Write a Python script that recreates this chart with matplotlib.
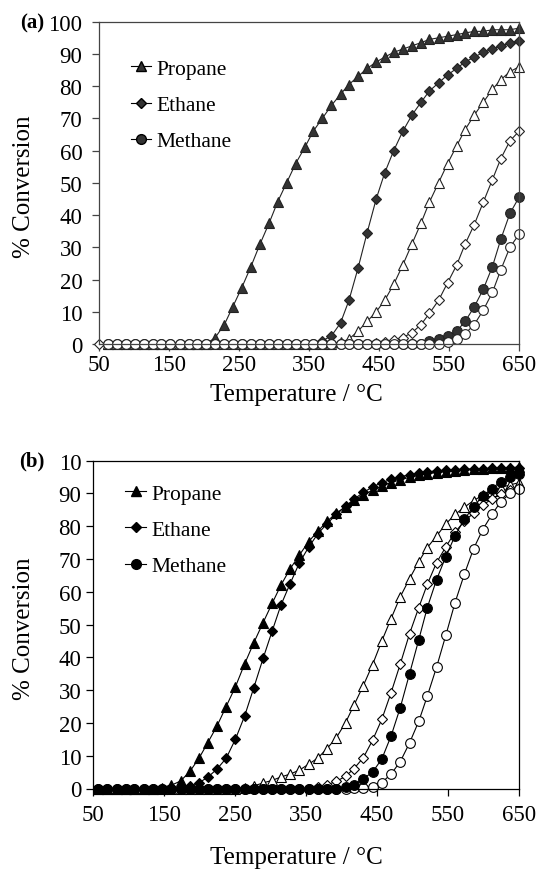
import numpy as np
import matplotlib
matplotlib.use("Agg")
import matplotlib.pyplot as plt
from matplotlib.lines import Line2D

plt.rcParams['font.family'] = ['Liberation Serif', 'DejaVu Serif']

nan = np.nan

# ==== panel (a) data
temp_a = [50, 63, 76, 88, 101, 114, 127, 139, 152, 165, 178, 190, 203, 216, 229, 241,
          254, 267, 280, 293, 305, 318, 331, 344, 356, 369, 382, 395, 407, 420, 433, 446,
          458, 471, 484, 497, 510, 522, 535, 548, 561, 573, 586, 599, 612, 624, 637, 650]

propane_a = [nan] + [0] * 12 + [2, 6, 11.5, 17.5, 24, 31, 37.5, 44, 50, 56, 61, 66, 70, 74,
             77.5, 80.5, 83, 85.5, 87.5, 89, 90.5, 91.5, 92.5, 93.5, 94.5, 95, 95.5, 96,
             96.5, 97, 97, 97.5, 97.5, 97.5, 98]
ethane_a = [nan] + [0] * 24 + [1, 2.5, 6.5, 13.5, 23.5, 34.5, 45, 53, 60, 66, 71, 75, 78.5,
            81, 83.5, 85.5, 87.5, 89, 90.5, 91.5, 92.5, 93.3, 94]
methane_a = [nan] + [0] * 36 + [0.8, 1.5, 2.5, 4, 7, 11.5, 17, 24, 32.5, 40.5, 45.5]
propane_a_open = [nan] + [0] * 26 + [0.5, 1.5, 4, 7, 10, 13.5, 18.5, 24.5, 31, 37.5, 44, 50,
                  56, 61.5, 66.5, 71, 75, 79, 82, 84.5, 86]
ethane_a_open = [0] * 31 + [0.2, 0.6, 1.2, 2, 3.5, 6, 9.5, 13.5, 19, 24.5, 31, 37, 44, 51,
                 57.5, 63, 66]
methane_a_open = [nan] + [0] * 38 + [0.5, 1.5, 3.2, 6, 10.5, 16, 23, 30, 34]

# ==== panel (b) data
temp_b = [58, 71, 84, 97, 109, 122, 135, 148, 161, 174, 187, 200, 212, 225, 238, 251,
          264, 277, 290, 303, 315, 328, 341, 354, 367, 380, 393, 406, 418, 431, 444, 457,
          470, 483, 496, 509, 521, 534, 547, 560, 573, 586, 599, 612, 624, 637, 650]

propane_b = [0] * 7 + [0.3, 1, 2.3, 5.2, 9.3, 13.9, 19, 25, 31, 38, 44.5, 50.6, 56.6, 62, 67,
             71.2, 75.3, 78.5, 81.5, 84, 86, 88, 89.6, 91, 92.3, 93.3, 94.2, 94.9, 95.5, 96,
             96.4, 96.7, 97, 97.2, 97.4, 97.5, 97.7, 97.8, 97.9, 98]
ethane_b = [0] * 9 + [0.3, 0.8, 1.8, 3.4, 5.9, 9.2, 15, 22.1, 30.8, 39.7, 48.2, 55.9, 62.5,
            68.8, 73.6, 77.7, 80.8, 83.6, 86.1, 88.3, 90.3, 92, 93.3, 94.3, 95.1, 95.7, 96.2,
            96.6, 96.9, 97.1, 97.3, 97.4, 97.5, 97.6, 97.7, 97.7, 97.8, 97.8]
methane_b = [0] * 27 + [0.5, 1.2, 3, 5, 9, 16, 24.7, 35, 45.4, 55.2, 63.7, 70.7, 77.1, 82.1,
             85.9, 89.3, 91.5, 93.6, 94.9, 95.8]
propane_b_open = [0] * 16 + [0.3, 0.8, 1.7, 2.5, 3.5, 4.4, 5.6, 7.4, 9.3, 12.2, 15.5, 20.1,
                  25.5, 31.4, 37.8, 45, 51.8, 58.5, 64, 69.2, 73.5, 77, 80.7, 83.6, 85.8,
                  87.8, 89.5, 90.8, 91.8, 92.6, 93.3]
ethane_b_open = [0] * 24 + [0.5, 1.1, 2.2, 3.7, 6.1, 9.4, 14.7, 21.1, 29.2, 38, 47.2, 55.2,
                 62.3, 68.9, 73.7, 78.2, 81.5, 84, 86.5, 88.3, 89.8, 91.1, 91.8]
methane_b_open = [0] * 28 + [0.1, 0.3, 0.6, 1.8, 4.4, 8.2, 13.9, 20.5, 28.2, 37, 46.7, 56.7,
                  65.3, 73.1, 79, 83.6, 87.4, 90, 91.3]

gas_names = ["Propane", "Ethane", "Methane"]
x_ticks = [50, 150, 250, 350, 450, 550, 650]
y_ticks = list(range(0, 101, 10))

MARKERS = {"Propane": ("^", 7.8), "Ethane": ("D", 5.2), "Methane": ("o", 7)}


def draw_series(ax, T, y, gas, face, edge, lw):
    m, ms = MARKERS[gas]
    ax.plot(T, y, color=edge, lw=lw, marker=m, ms=ms, mfc=face, mec=edge,
            mew=0.8, clip_on=False)


def style_axes(ax, spine_col, xpad, ypad, ytick_labels):
    ax.set_xlim(50, 650)
    ax.set_ylim(0, 100)
    ax.set_xticks(x_ticks)
    ax.set_yticks(y_ticks)
    ax.set_yticklabels(ytick_labels)
    for s in ax.spines.values():
        s.set_color(spine_col)
        s.set_linewidth(0.9)
    ax.tick_params(axis='x', direction='out', length=5, width=0.9, pad=xpad,
                   labelsize=16.5, color=spine_col)
    ax.tick_params(axis='y', direction='out', length=5, width=0.9, pad=ypad,
                   labelsize=16.5, color=spine_col)
    ax.set_xlabel("Temperature / °C", fontsize=18)
    ax.set_ylabel("% Conversion", fontsize=18)


fig = plt.figure(figsize=(5.39, 8.70), dpi=100)

# ==== (a)
ax1 = fig.add_axes([99 / 539, 1 - 345 / 870, 420 / 539, 322.3 / 870])
fill_a = "#333333"
draw_series(ax1, temp_a, propane_a, "Propane", fill_a, "#222222", 0.8)
draw_series(ax1, temp_a, ethane_a, "Ethane", fill_a, "#222222", 0.8)
draw_series(ax1, temp_a, methane_a, "Methane", fill_a, "#222222", 0.8)
draw_series(ax1, temp_a, propane_a_open, "Propane", "white", "#222222", 0.8)
draw_series(ax1, temp_a, ethane_a_open, "Ethane", "white", "#222222", 0.8)
draw_series(ax1, temp_a, methane_a_open, "Methane", "white", "#222222", 0.8)
style_axes(ax1, "#444444", 2, 7, [str(v) for v in y_ticks])
ax1.xaxis.set_label_coords(0.47, -0.155)
ax1.xaxis.label.set_va('center')
ax1.yaxis.set_label_coords(-0.179, 0.49)
ax1.yaxis.label.set_va('center')

# ==== (b)
ax2 = fig.add_axes([92.5 / 539, 1 - 789.5 / 870, 426.5 / 539, 327.8 / 870])
draw_series(ax2, temp_b, propane_b_open, "Propane", "white", "black", 0.8)
draw_series(ax2, temp_b, ethane_b_open, "Ethane", "white", "black", 0.8)
draw_series(ax2, temp_b, methane_b_open, "Methane", "white", "black", 0.8)
draw_series(ax2, temp_b, propane_b, "Propane", "black", "black", 0.8)
draw_series(ax2, temp_b, ethane_b, "Ethane", "black", "black", 0.8)
draw_series(ax2, temp_b, methane_b, "Methane", "black", "black", 0.8)
labels_b = [str(v) for v in y_ticks]
labels_b[-1] = "10"
style_axes(ax2, "black", 6, 3, labels_b)
ax2.xaxis.set_label_coords(0.478, -0.209)
ax2.xaxis.label.set_va('center')
ax2.yaxis.set_label_coords(-0.161, 0.49)
ax2.yaxis.label.set_va('center')

# legends: filled symbols only
for ax, face, anchor in [(ax1, fill_a, (0.076, 0.885)), (ax2, "black", (0.077, 0.93))]:
    handles = [Line2D([], [], color="black", lw=0.8, marker=MARKERS[g][0],
                      ms=MARKERS[g][1], mfc=face, mec="black") for g in gas_names]
    ax.legend(handles, gas_names, loc="upper left", bbox_to_anchor=anchor,
              frameon=False, fontsize=15.5, handlelength=0.95, handletextpad=0.25,
              labelspacing=0.75, borderpad=0, borderaxespad=0)

fig.text(31.8 / 539, 1 - 23.3 / 870, "(a)", fontsize=15, fontweight="bold",
         ha="center", va="center")
fig.text(31.8 / 539, 1 - 461 / 870, "(b)", fontsize=15, fontweight="bold",
         ha="center", va="center")

fig.savefig("out.png", dpi=100)
